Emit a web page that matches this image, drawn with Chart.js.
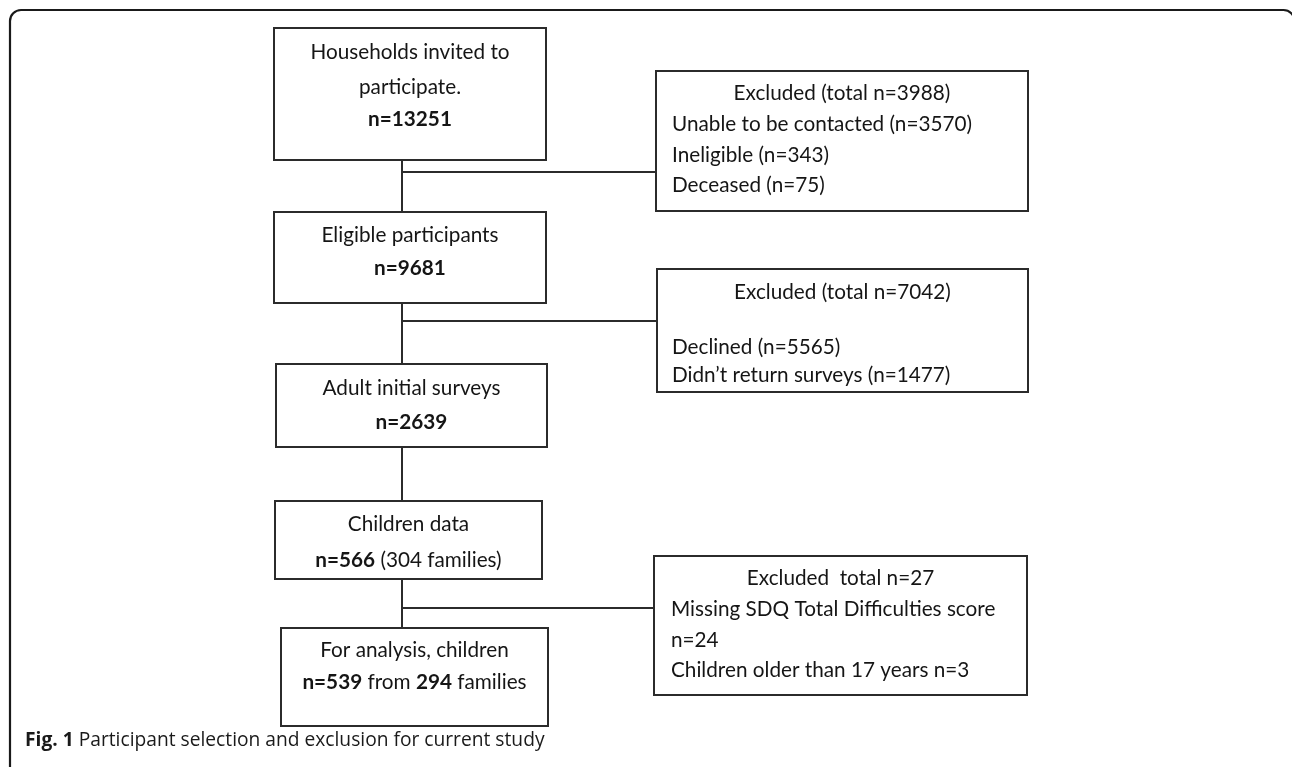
<!DOCTYPE html>
<html>
<head>
<meta charset="utf-8">
<script src="https://cdn.jsdelivr.net/npm/chart.js@4.4.1/dist/chart.umd.min.js"></script>
<style>
  html, body { margin: 0; padding: 0; background: #ffffff; }
  #wrap { width: 1292px; height: 767px; position: relative; }
</style>
</head>
<body>
<div id="wrap"><canvas id="c" width="1292" height="767"></canvas></div>
<script>
// ---------- DATA ----------
const stageLabels = ["Households invited to|participate.", "Eligible participants", "Adult initial surveys", "Children data", "For analysis, children"];
const stageCounts = [13251, 9681, 2639, 566, 539];
const stageFamilies = [null, null, null, 304, 294];
const excludedTotals = [3988, 7042, 27];
const exclusionReasons1 = ["Unable to be contacted", "Ineligible", "Deceased"];
const exclusionCounts1 = [3570, 343, 75];
const exclusionReasons2 = ["Declined", "Didn\u2019t return surveys"];
const exclusionCounts2 = [5565, 1477];
const exclusionReasons3 = ["Missing SDQ Total Difficulties score", "Children older than 17 years"];
const exclusionCounts3 = [24, 3];
const captionBold = "Fig. 1";
const captionText = " Participant selection and exclusion for current study";

// ---------- LAYOUT (diagram coordinate system) ----------
const stageBoxes = [ // [left, top, right, bottom]
  [274, 28, 546, 160],
  [274, 212, 546, 303],
  [276, 364, 547, 447],
  [275, 501, 542, 579],
  [281, 628, 548, 726]
];
const exclBoxes = [
  [656, 71, 1028, 211],
  [657, 269, 1028, 392],
  [654, 556, 1027, 695]
];
const trunkX = 402;
const branchY = [172, 321, 608];
const lineColor = "#2b2b2b";
const textColor = "#151515";
const boxFont = "Lato, 'Open Sans', sans-serif";
const capFont = "'Open Sans', 'Noto Sans', sans-serif";
// reference widths used to size the box font
const fitStrings = ["Households invited to", "Excluded (total n=3988)", "Unable to be contacted (n=3570)",
  "Missing SDQ Total Difficulties score", "Children older than 17 years n=3", "For analysis, children",
  "Eligible participants", "Adult initial surveys"];
const fitWidths = [211, 209, 293, 313, 290, 186, 190, 190];

// ---------- datasets ----------
function rectPts(b) {
  return [{x:b[0],y:b[1]},{x:b[2],y:b[1]},{x:b[2],y:b[3]},{x:b[0],y:b[3]},{x:b[0],y:b[1]}];
}
const datasets = [];
stageBoxes.concat(exclBoxes).forEach(b => datasets.push({
  data: rectPts(b), showLine: true, borderColor: lineColor, borderWidth: 2,
  pointRadius: 0, fill: false, tension: 0
}));
for (let i = 0; i < stageBoxes.length - 1; i++) {
  datasets.push({ data: [{x:trunkX, y:stageBoxes[i][3]}, {x:trunkX, y:stageBoxes[i+1][1]}],
    showLine: true, borderColor: lineColor, borderWidth: 2, pointRadius: 0 });
}
branchY.forEach((y, k) => datasets.push({
  data: [{x:trunkX, y:y}, {x:exclBoxes[k][0], y:y}],
  showLine: true, borderColor: lineColor, borderWidth: 2, pointRadius: 0
}));

// ---------- text content ----------
const stageLines = stageLabels.map((lab, i) => {
  const lines = lab.split("|").map(t => [{t: t, b: false}]);
  if (stageFamilies[i] == null) {
    lines.push([{t: "n=" + stageCounts[i], b: true}]);
  } else if (i === 3) {
    lines.push([{t: "n=" + stageCounts[i], b: true}, {t: " (" + stageFamilies[i] + " families)", b: false}]);
  } else {
    lines.push([{t: "n=" + stageCounts[i], b: true}, {t: " from ", b: false}, {t: String(stageFamilies[i]), b: true}, {t: " families", b: false}]);
  }
  return lines;
});
const stageLineY = [[52, 87, 119], [235, 268], [388, 422], [524, 560], [650, 682]];

const exclTitles = [
  "Excluded (total n=" + excludedTotals[0] + ")",
  "Excluded (total n=" + excludedTotals[1] + ")",
  "Excluded  total n=" + excludedTotals[2]
];
const exclTitleY = [93, 292, 578];
const exclLines = [
  exclusionReasons1.map((r, i) => r + " (n=" + exclusionCounts1[i] + ")"),
  exclusionReasons2.map((r, i) => r + " (n=" + exclusionCounts2[i] + ")"),
  [exclusionReasons3[0], "n=" + exclusionCounts3[0], exclusionReasons3[1] + " n=" + exclusionCounts3[1]]
];
const exclLineY = [[124, 155, 185], [347, 375], [609, 640, 670]];
const exclTextX = [672, 672, 671];

// ---------- plugin ----------
const diagramPlugin = {
  id: 'diagram',
  beforeDatasetsDraw(chart) {
    const {ctx, scales: {x, y}} = chart;
    const l = x.getPixelForValue(10), t = y.getPixelForValue(10);
    const r = x.getPixelForValue(1294.5), b = y.getPixelForValue(820);
    const rad = 11;
    ctx.save();
    ctx.strokeStyle = "#1a1a1a";
    ctx.lineWidth = 2.2;
    ctx.beginPath();
    ctx.moveTo(l, b);
    ctx.lineTo(l, t + rad);
    ctx.arcTo(l, t, l + rad, t, rad);
    ctx.lineTo(r - rad, t);
    ctx.arcTo(r, t, r, t + rad, rad);
    ctx.lineTo(r, b);
    ctx.stroke();
    ctx.restore();
  },
  afterDatasetsDraw(chart) {
    const {ctx, scales: {x, y}} = chart;
    ctx.save();
    ctx.fillStyle = textColor;
    ctx.textBaseline = "middle";
    ctx.font = "20px " + boxFont;
    let mSum = 0, rSum = 0;
    fitStrings.forEach((s, i) => { mSum += ctx.measureText(s).width; rSum += fitWidths[i]; });
    const fs = 20 * rSum / mSum;
    const fN = fs.toFixed(2) + "px " + boxFont;
    const fB = "bold " + fs.toFixed(2) + "px " + boxFont;
    function runs(list, cx, cy, center) {
      let tot = 0;
      list.forEach(r => { ctx.font = r.b ? fB : fN; r.w = ctx.measureText(r.t).width; tot += r.w; });
      let sx = center ? cx - tot / 2 : cx;
      ctx.textAlign = "left";
      list.forEach(r => { ctx.font = r.b ? fB : fN; ctx.fillText(r.t, sx, cy); sx += r.w; });
    }
    stageLines.forEach((lines, i) => {
      const cx = x.getPixelForValue((stageBoxes[i][0] + stageBoxes[i][2]) / 2);
      lines.forEach((ln, j) => runs(ln, cx, y.getPixelForValue(stageLineY[i][j]), true));
    });
    exclTitles.forEach((tt, k) => {
      const cx = x.getPixelForValue((exclBoxes[k][0] + exclBoxes[k][2]) / 2);
      runs([{t: tt, b: false}], cx, y.getPixelForValue(exclTitleY[k]), true);
      exclLines[k].forEach((ln, j) => runs([{t: ln, b: false}], x.getPixelForValue(exclTextX[k]), y.getPixelForValue(exclLineY[k][j]), false));
    });
    // caption
    ctx.font = "18px " + capFont;
    let cw = ctx.measureText(captionText).width;
    ctx.font = "bold 18px " + capFont;
    cw += ctx.measureText(captionBold).width;
    const cs = 18 * 520 / cw;
    const cN = cs.toFixed(2) + "px " + capFont, cB = "bold " + cs.toFixed(2) + "px " + capFont;
    ctx.fillStyle = "#1a1a1a";
    ctx.font = cB;
    const cx0 = x.getPixelForValue(25), cy0 = y.getPixelForValue(741);
    ctx.fillText(captionBold, cx0, cy0);
    const bw = ctx.measureText(captionBold).width;
    ctx.font = cN;
    ctx.fillText(captionText, cx0 + bw, cy0);
    ctx.restore();
  }
};

new Chart(document.getElementById('c'), {
  type: 'scatter',
  data: { datasets: datasets },
  options: {
    responsive: false,
    animation: false,
    devicePixelRatio: 1,
    layout: { padding: 0 },
    plugins: { legend: { display: false }, tooltip: { enabled: false } },
    scales: {
      x: { type: 'linear', min: 0, max: 1292, display: false },
      y: { type: 'linear', min: 0, max: 767, reverse: true, display: false }
    },
    elements: { line: { borderCapStyle: 'square', borderJoinStyle: 'miter' } }
  },
  plugins: [diagramPlugin]
});
</script>
</body>
</html>
